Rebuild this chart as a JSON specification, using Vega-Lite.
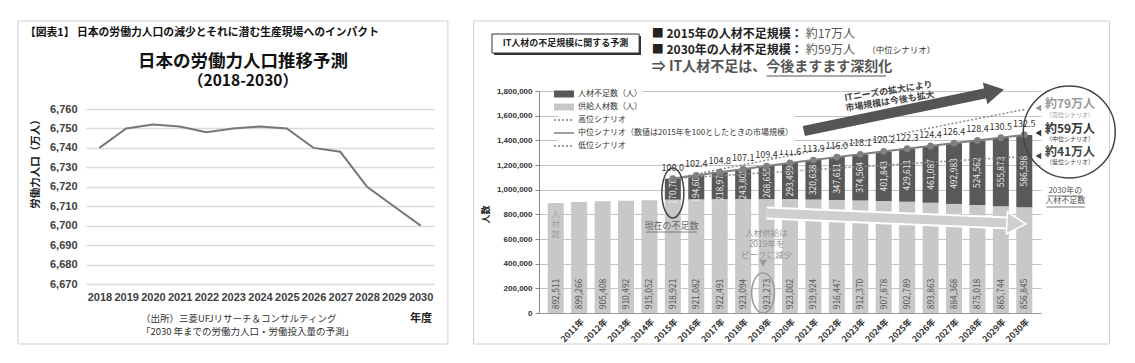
{
  "$schema": "https://vega.github.io/schema/vega-lite/v6.json",
  "background": "white",
  "padding": {"left": 17, "top": 20, "right": 5, "bottom": 5},
  "bounds": "flush",
  "spacing": 105,
  "config": {"font": "Noto Sans CJK JP", "view": {"stroke": null}},
  "resolve": {
    "scale": {"color": "independent", "strokeDash": "independent"},
    "legend": {"color": "independent", "strokeDash": "independent"}
  },
  "datasets": {
    "labour": [
      {"year": 2018, "pop": 6740}, {"year": 2019, "pop": 6750}, {"year": 2020, "pop": 6752},
      {"year": 2021, "pop": 6751}, {"year": 2022, "pop": 6748}, {"year": 2023, "pop": 6750},
      {"year": 2024, "pop": 6751}, {"year": 2025, "pop": 6750}, {"year": 2026, "pop": 6740},
      {"year": 2027, "pop": 6738}, {"year": 2028, "pop": 6720}, {"year": 2029, "pop": 6710},
      {"year": 2030, "pop": 6700}
    ],
    "it": [
      {"year": 2010, "supply": 892511, "shortage": null, "index": null},
      {"year": 2011, "supply": 899266, "shortage": null, "index": null},
      {"year": 2012, "supply": 905408, "shortage": null, "index": null},
      {"year": 2013, "supply": 910492, "shortage": null, "index": null},
      {"year": 2014, "supply": 915052, "shortage": null, "index": null},
      {"year": 2015, "supply": 918921, "shortage": 170700, "index": 100.0},
      {"year": 2016, "supply": 921082, "shortage": 194608, "index": 102.4},
      {"year": 2017, "supply": 922491, "shortage": 218976, "index": 104.8},
      {"year": 2018, "supply": 923094, "shortage": 243805, "index": 107.1},
      {"year": 2019, "supply": 923273, "shortage": 268655, "index": 109.4},
      {"year": 2020, "supply": 923002, "shortage": 293499, "index": 111.6},
      {"year": 2021, "supply": 919924, "shortage": 320638, "index": 113.9},
      {"year": 2022, "supply": 916447, "shortage": 347611, "index": 116.0},
      {"year": 2023, "supply": 912370, "shortage": 374564, "index": 118.1},
      {"year": 2024, "supply": 907878, "shortage": 401843, "index": 120.2},
      {"year": 2025, "supply": 902789, "shortage": 429611, "index": 122.3},
      {"year": 2026, "supply": 893863, "shortage": 461087, "index": 124.4},
      {"year": 2027, "supply": 884368, "shortage": 492983, "index": 126.4},
      {"year": 2028, "supply": 875018, "shortage": 524562, "index": 128.4},
      {"year": 2029, "supply": 865744, "shortage": 555873, "index": 130.5},
      {"year": 2030, "supply": 856845, "shortage": 586598, "index": 132.5}
    ],
    "scen": [
      {"scen": "高位シナリオ", "year": 2015, "value": 1089621},
      {"scen": "高位シナリオ", "year": 2030, "value": 1650000},
      {"scen": "低位シナリオ", "year": 2015, "value": 1089621},
      {"scen": "低位シナリオ", "year": 2030, "value": 1270000}
    ]
  },
  "hconcat": [
    {
      "width": 348,
      "height": 193,
      "resolve": {"axis": {"x": "independent", "y": "independent"}},
      "layer": [
        {
          "data": {"values": [{}]},
          "mark": {"type": "rect", "filled": false, "color": "#d0d0d0", "strokeWidth": 1},
          "encoding": {"x": {"datum": 2014.96, "axis": null}, "x2": {"datum": 2031.02}, "y": {"datum": 6805.26, "axis": null}, "y2": {"datum": 6639.14}}
        },
        {
          "data": {"name": "labour"},
          "mark": {"type": "line", "color": "#777777", "strokeWidth": 2},
          "encoding": {
            "x": {
              "field": "year", "type": "quantitative",
              "scale": {"domain": [2017.5, 2030.5], "nice": false, "zero": false},
              "axis": {
                "values": [2018, 2019, 2020, 2021, 2022, 2023, 2024, 2025, 2026, 2027, 2028, 2029, 2030],
                "format": "d", "title": null, "grid": false, "domain": false, "ticks": false, "orient": "bottom",
                "labelFont": "Liberation Sans", "labelFontSize": 11, "labelFontWeight": "bold",
                "labelColor": "#404040", "labelPadding": 7, "labelFlush": false, "labelOverlap": false
              }
            },
            "y": {
              "field": "pop", "type": "quantitative",
              "scale": {"domain": [6670, 6769.26], "nice": false, "zero": false},
              "axis": {
                "values": [6670, 6680, 6690, 6700, 6710, 6720, 6730, 6740, 6750, 6760],
                "format": ",d", "title": "労働力人口（万人）", "orient": "left",
                "grid": true, "gridColor": "#dadada", "gridWidth": 1.5,
                "domain": false, "ticks": false, "labelOverlap": false,
                "labelFont": "Liberation Sans", "labelFontSize": 11, "labelFontWeight": "bold",
                "labelColor": "#404040", "labelPadding": 9,
                "titleFontSize": 10.5, "titleFontWeight": "bold", "titleColor": "#222",
                "titleX": -51, "titleY": 70, "titleAngle": 270, "titleAlign": "center", "titleBaseline": "middle"
              }
            }
          }
        },
        {
          "data": {"values": [{}]},
          "mark": {"type": "text", "text": "【図表1】 日本の労働力人口の減少とそれに潜む生産現場へのインパクト", "align": "left", "baseline": "middle", "fontSize": 10.8, "fontWeight": "bold", "color": "#111"},
          "encoding": {"x": {"datum": 2015.22, "axis": null}, "y": {"datum": 6799.09, "axis": null}}
        },
        {
          "data": {"values": [{}]},
          "mark": {"type": "text", "text": "日本の労働力人口推移予測", "align": "center", "baseline": "middle", "fontSize": 17.5, "fontWeight": "bold", "color": "#111"},
          "encoding": {"x": {"datum": 2023.365, "axis": null}, "y": {"datum": 6784.17, "axis": null}}
        },
        {
          "data": {"values": [{}]},
          "mark": {"type": "text", "text": "（2018-2030）", "align": "center", "baseline": "middle", "fontSize": 15.5, "fontWeight": "bold", "color": "#111"},
          "encoding": {"x": {"datum": 2023.365, "axis": null}, "y": {"datum": 6774.4, "axis": null}}
        },
        {
          "data": {"values": [{}]},
          "mark": {"type": "text", "text": ["（出所）三菱UFJリサーチ＆コンサルティング", "「2030 年までの労働力人口・労働投入量の予測」"], "align": "left", "baseline": "middle", "fontSize": 9.5, "lineHeight": 13, "color": "#333"},
          "encoding": {"x": {"datum": 2019.55, "axis": null}, "y": {"datum": 6652.0, "axis": null}}
        },
        {
          "data": {"values": [{}]},
          "mark": {"type": "text", "text": "年度", "align": "center", "baseline": "middle", "fontSize": 11, "fontWeight": "bold", "color": "#222"},
          "encoding": {"x": {"datum": 2030.01, "axis": null}, "y": {"datum": 6652.0, "axis": null}}
        }
      ]
    },
    {
      "width": 502,
      "height": 222,
      "resolve": {"axis": {"x": "independent", "y": "independent"}},
      "layer": [
        {
          "data": {"values": [{}]},
          "mark": {"type": "rect", "filled": false, "color": "#d0d0d0", "strokeWidth": 1},
          "encoding": {"x": {"datum": 2006.49, "axis": null}, "x2": {"datum": 2033.64}, "y": {"datum": 2367600, "axis": null}, "y2": {"datum": -251400}}
        },
        {
          "data": {"name": "it"},
          "transform": [
            {"fold": ["supply", "shortage"], "as": ["kind", "value"]},
            {"filter": "datum.value != null"}
          ],
          "mark": {"type": "bar", "width": 16},
          "encoding": {
            "x": {
              "field": "year", "type": "quantitative",
              "scale": {"domain": [2009.5, 2030.5], "nice": false, "zero": false},
              "axis": {
                "values": [2010, 2011, 2012, 2013, 2014, 2015, 2016, 2017, 2018, 2019, 2020, 2021, 2022, 2023, 2024, 2025, 2026, 2027, 2028, 2029, 2030],
                "labelExpr": "datum.value == 2010 ? '' : datum.value + '年'", "orient": "bottom",
                "labelAngle": -45, "title": null, "grid": false, "ticks": false,
                "domain": true, "domainColor": "#999",
                "labelFontSize": 8.5, "labelFontWeight": "bold", "labelColor": "#333",
                "labelPadding": 4, "labelFlush": false, "labelOverlap": false
              }
            },
            "y": {
              "field": "value", "type": "quantitative", "stack": "zero",
              "scale": {"domain": [0, 1800000], "nice": false},
              "axis": {
                "values": [0, 200000, 400000, 600000, 800000, 1000000, 1200000, 1400000, 1600000, 1800000],
                "format": ",d", "title": "人数", "labelOverlap": false, "orient": "left",
                "titleX": -54, "titleY": 123, "titleAngle": 270, "titleAlign": "center", "titleBaseline": "middle",
                "titleFontSize": 9, "titleFontWeight": "bold", "titleColor": "#222",
                "grid": true, "gridColor": "#c4c4c4",
                "domainColor": "#888", "tickColor": "#888", "tickSize": 4,
                "labelFont": "Liberation Sans", "labelFontSize": 8, "labelFontWeight": "bold",
                "labelColor": "#333", "labelPadding": 3
              }
            },
            "color": {
              "field": "kind", "type": "nominal",
              "scale": {"domain": ["shortage", "supply"], "range": ["#595959", "#c8c8c8"]},
              "legend": {
                "orient": "none", "legendX": 19, "legendY": -3, "title": null, "padding": 0, "fillColor": "white",
                "labelExpr": "datum.value == 'shortage' ? '人材不足数（人）' : '供給人材数（人）'",
                "symbolType": "M-2,-0.7H2V0.7H-2Z", "symbolSize": 100, "labelOffset": 8,
                "labelFontSize": 8, "labelColor": "#333", "rowPadding": 3, "labelLimit": 400
              }
            },
            "order": {"field": "kind", "sort": "descending"}
          }
        },
        {
          "data": {"name": "it"},
          "mark": {"type": "text", "angle": 270, "fontSize": 8.5, "color": "#555", "align": "center", "baseline": "middle"},
          "encoding": {
            "x": {"field": "year", "type": "quantitative", "axis": null},
            "y": {"datum": 154000, "axis": null},
            "text": {"field": "supply", "type": "quantitative", "format": ","}
          }
        },
        {
          "data": {"name": "it"},
          "transform": [
            {"filter": "datum.shortage != null"},
            {"calculate": "datum.supply + datum.shortage / 2", "as": "mid"}
          ],
          "mark": {"type": "text", "angle": 270, "fontSize": 8.5, "color": "#ececec", "align": "center", "baseline": "middle"},
          "encoding": {
            "x": {"field": "year", "type": "quantitative", "axis": null},
            "y": {"field": "mid", "type": "quantitative", "axis": null},
            "text": {"field": "shortage", "type": "quantitative", "format": ","}
          }
        },
        {
          "data": {"values": [{}]},
          "mark": {"type": "rule", "color": "white", "strokeWidth": 13},
          "encoding": {"x": {"datum": 2019.0, "axis": null}, "y": {"datum": 810800, "axis": null}, "x2": {"datum": 2029.33}, "y2": {"datum": 729700}}
        },
        {
          "data": {"values": [{}]},
          "mark": {"type": "rule", "color": "#cfcfcf", "strokeWidth": 9},
          "encoding": {"x": {"datum": 2019.0, "axis": null}, "y": {"datum": 810800, "axis": null}, "x2": {"datum": 2029.33}, "y2": {"datum": 729700}}
        },
        {
          "data": {"values": [{}]},
          "mark": {"type": "point", "shape": "triangle-right", "filled": true, "color": "#cfcfcf", "stroke": "white", "strokeWidth": 1.5, "size": 480, "angle": 2.5, "opacity": 1},
          "encoding": {"x": {"datum": 2029.66, "axis": null}, "y": {"datum": 726500, "axis": null}}
        },
        {
          "data": {"name": "scen"},
          "mark": {"type": "line", "color": "#888", "strokeWidth": 1.5},
          "encoding": {
            "x": {"field": "year", "type": "quantitative", "axis": null},
            "y": {"field": "value", "type": "quantitative", "axis": null},
            "strokeDash": {
              "field": "scen", "type": "nominal",
              "scale": {"domain": ["高位シナリオ", "中位シナリオ（数値は2015年を100としたときの市場規模）", "低位シナリオ"], "range": [[2, 2], [1, 0], [2, 2]]},
              "legend": {
                "orient": "none", "legendX": 19, "legendY": 23, "title": null, "padding": 0, "fillColor": "white",
                "symbolType": "M-2,0H2", "symbolSize": 100, "labelOffset": 8,
                "symbolStrokeColor": "#808080", "symbolStrokeWidth": 1.5,
                "labelFontSize": 8, "labelColor": "#333", "rowPadding": 3, "labelLimit": 400
              }
            }
          }
        },
        {
          "data": {"name": "it"},
          "transform": [
            {"filter": "datum.index != null"},
            {"calculate": "datum.supply + datum.shortage", "as": "total"}
          ],
          "mark": {"type": "line", "color": "#808080", "strokeWidth": 2, "point": {"filled": true, "size": 45, "color": "#808080"}},
          "encoding": {
            "x": {"field": "year", "type": "quantitative", "axis": null},
            "y": {"field": "total", "type": "quantitative", "axis": null},
            "strokeDash": {"datum": "中位シナリオ（数値は2015年を100としたときの市場規模）"}
          }
        },
        {
          "data": {"name": "it"},
          "transform": [
            {"filter": "datum.index != null"},
            {"calculate": "datum.supply + datum.shortage", "as": "total"}
          ],
          "mark": {"type": "text", "dy": -11, "fontSize": 9, "color": "#333", "baseline": "middle"},
          "encoding": {
            "x": {"field": "year", "type": "quantitative", "axis": null},
            "y": {"field": "total", "type": "quantitative", "axis": null},
            "text": {"field": "index", "type": "quantitative", "format": ".1f"}
          }
        },
        {
          "data": {"values": [{}]},
          "mark": {"type": "rule", "color": "#555", "strokeWidth": 10},
          "encoding": {"x": {"datum": 2020.59, "axis": null}, "y": {"datum": 1475700, "axis": null}, "x2": {"datum": 2028.41}, "y2": {"datum": 1783800}}
        },
        {
          "data": {"values": [{}]},
          "mark": {"type": "point", "shape": "triangle-right", "filled": true, "color": "#555", "size": 500, "angle": -11.5, "opacity": 1},
          "encoding": {"x": {"datum": 2028.73, "axis": null}, "y": {"datum": 1796700, "axis": null}}
        },
        {
          "data": {"values": [{}]},
          "mark": {"type": "text", "text": ["ITニーズの拡大により", "市場規模は今後も拡大"], "angle": -9, "fontSize": 9, "fontWeight": "bold", "color": "#444", "lineHeight": 10.5, "align": "center", "baseline": "middle"},
          "encoding": {"x": {"datum": 2024.2, "axis": null}, "y": {"datum": 1800000, "axis": null}}
        },
        {
          "data": {"values": [{}]},
          "mark": {"type": "text", "text": ["人", "材", "数"], "fontSize": 8.5, "color": "#a4a4a4", "lineHeight": 10, "align": "center", "baseline": "middle"},
          "encoding": {"x": {"datum": 2010, "axis": null}, "y": {"datum": 802700, "axis": null}}
        },
        {
          "data": {"values": [{}]},
          "mark": {"type": "text", "text": "現在の不足数", "fontSize": 9, "color": "#666", "align": "center", "baseline": "middle"},
          "encoding": {"x": {"datum": 2014.94, "axis": null}, "y": {"datum": 705400, "axis": null}}
        },
        {
          "data": {"values": [{}]},
          "mark": {"type": "rule", "color": "#666", "strokeWidth": 0.8},
          "encoding": {"x": {"datum": 2013.85, "axis": null}, "x2": {"datum": 2016.03}, "y": {"datum": 656700, "axis": null}, "y2": {"datum": 656700}}
        },
        {
          "data": {"values": [{}]},
          "mark": {"type": "text", "text": ["人材供給は", "2019年を", "ピークに減少"], "fontSize": 8.5, "color": "#959595", "lineHeight": 11, "align": "center", "baseline": "middle"},
          "encoding": {"x": {"datum": 2019, "axis": null}, "y": {"datum": 652700, "axis": null}}
        },
        {
          "data": {"values": [{}]},
          "mark": {"type": "point", "shape": "triangle-down", "filled": true, "color": "#9a9a9a", "size": 70, "opacity": 1},
          "encoding": {"x": {"datum": 2018.85, "axis": null}, "y": {"datum": 405400, "axis": null}}
        },
        {
          "data": {"values": [{}]},
          "mark": {"type": "point", "shape": "M0,-1A0.44,1,0,1,1,0,1A0.44,1,0,1,1,0,-1Z", "filled": false, "color": "#444", "strokeWidth": 1.5, "size": 2500, "opacity": 1},
          "encoding": {"x": {"datum": 2015, "axis": null}, "y": {"datum": 973000, "axis": null}}
        },
        {
          "data": {"values": [{}]},
          "mark": {"type": "point", "shape": "M0,-1A0.57,1,0,1,1,0,1A0.57,1,0,1,1,0,-1Z", "filled": false, "color": "#999", "strokeWidth": 1.5, "size": 1600, "opacity": 1},
          "encoding": {"x": {"datum": 2018.85, "axis": null}, "y": {"datum": 162200, "axis": null}}
        },
        {
          "data": {"values": [{}]},
          "mark": {"type": "point", "shape": "M0,-1A1,1,0,1,1,0,1A1,1,0,1,1,0,-1Z", "filled": false, "color": "#444", "strokeWidth": 1.5, "size": 8464, "opacity": 1},
          "encoding": {"x": {"datum": 2031.92, "axis": null}, "y": {"datum": 1467500, "axis": null}}
        },
        {
          "data": {"values": [{}]},
          "mark": {"type": "point", "shape": "triangle-left", "filled": true, "color": "#999", "size": 45, "opacity": 1},
          "encoding": {"x": {"datum": 2030.6, "axis": null}, "y": {"datum": 1662100, "axis": null}}
        },
        {
          "data": {"values": [{}]},
          "mark": {"type": "point", "shape": "triangle-left", "filled": true, "color": "#333", "size": 45, "opacity": 1},
          "encoding": {"x": {"datum": 2030.6, "axis": null}, "y": {"datum": 1459400, "axis": null}}
        },
        {
          "data": {"values": [{}]},
          "mark": {"type": "point", "shape": "triangle-left", "filled": true, "color": "#444", "size": 45, "opacity": 1},
          "encoding": {"x": {"datum": 2030.6, "axis": null}, "y": {"datum": 1273000, "axis": null}}
        },
        {
          "data": {"values": [{}]},
          "mark": {"type": "text", "text": "約79万人", "fontSize": 12, "fontWeight": "bold", "color": "#9a9a9a", "align": "center", "baseline": "middle"},
          "encoding": {"x": {"datum": 2031.95, "axis": null}, "y": {"datum": 1694600, "axis": null}}
        },
        {
          "data": {"values": [{}]},
          "mark": {"type": "text", "text": "（高位シナリオ）", "fontSize": 6, "color": "#9a9a9a", "align": "center", "baseline": "middle"},
          "encoding": {"x": {"datum": 2031.95, "axis": null}, "y": {"datum": 1605400, "axis": null}}
        },
        {
          "data": {"values": [{}]},
          "mark": {"type": "text", "text": "約59万人", "fontSize": 12, "fontWeight": "bold", "color": "#333", "align": "center", "baseline": "middle"},
          "encoding": {"x": {"datum": 2031.95, "axis": null}, "y": {"datum": 1491900, "axis": null}}
        },
        {
          "data": {"values": [{}]},
          "mark": {"type": "text", "text": "（中位シナリオ）", "fontSize": 6, "color": "#333", "align": "center", "baseline": "middle"},
          "encoding": {"x": {"datum": 2031.95, "axis": null}, "y": {"datum": 1410800, "axis": null}}
        },
        {
          "data": {"values": [{}]},
          "mark": {"type": "text", "text": "約41万人", "fontSize": 12, "fontWeight": "bold", "color": "#444", "align": "center", "baseline": "middle"},
          "encoding": {"x": {"datum": 2031.95, "axis": null}, "y": {"datum": 1305400, "axis": null}}
        },
        {
          "data": {"values": [{}]},
          "mark": {"type": "text", "text": "（低位シナリオ）", "fontSize": 6, "color": "#444", "align": "center", "baseline": "middle"},
          "encoding": {"x": {"datum": 2031.95, "axis": null}, "y": {"datum": 1224300, "axis": null}}
        },
        {
          "data": {"values": [{}]},
          "mark": {"type": "text", "text": ["2030年の", "人材不足数"], "fontSize": 8, "color": "#555", "lineHeight": 10.5, "align": "center", "baseline": "middle"},
          "encoding": {"x": {"datum": 2031.75, "axis": null}, "y": {"datum": 989200, "axis": null}}
        },
        {
          "data": {"values": [{}]},
          "mark": {"type": "rule", "color": "#555", "strokeWidth": 0.8},
          "encoding": {"x": {"datum": 2031.0, "axis": null}, "x2": {"datum": 2032.5}, "y": {"datum": 948600, "axis": null}, "y2": {"datum": 948600}}
        },
        {
          "data": {"values": [{}]},
          "mark": {"type": "rule", "color": "#555", "strokeWidth": 0.8},
          "encoding": {"x": {"datum": 2030.95, "axis": null}, "x2": {"datum": 2032.59}, "y": {"datum": 859500, "axis": null}, "y2": {"datum": 859500}}
        },
        {
          "data": {"values": [{}]},
          "mark": {"type": "rect", "color": "#333"},
          "encoding": {"x": {"datum": 2007.37, "axis": null}, "x2": {"datum": 2013.64}, "y": {"datum": 2245900, "axis": null}, "y2": {"datum": 2091900}}
        },
        {
          "data": {"values": [{}]},
          "mark": {"type": "rect", "fill": "white", "stroke": "#333", "strokeWidth": 1},
          "encoding": {"x": {"datum": 2007.28, "axis": null}, "x2": {"datum": 2013.56}, "y": {"datum": 2262100, "axis": null}, "y2": {"datum": 2108100}}
        },
        {
          "data": {"values": [{}]},
          "mark": {"type": "text", "text": "IT人材の不足規模に関する予測", "fontSize": 9, "fontWeight": "bold", "color": "#222", "align": "center", "baseline": "middle"},
          "encoding": {"x": {"datum": 2010.42, "axis": null}, "y": {"datum": 2189200, "axis": null}}
        },
        {
          "data": {"values": [{}]},
          "mark": {"type": "text", "text": "■ 2015年の人材不足規模：", "fontSize": 12, "fontWeight": "bold", "color": "#222", "align": "left", "baseline": "middle"},
          "encoding": {"x": {"datum": 2014.1, "axis": null}, "y": {"datum": 2262200, "axis": null}}
        },
        {
          "data": {"values": [{}]},
          "mark": {"type": "text", "text": "約17万人", "fontSize": 12, "color": "#555", "align": "left", "baseline": "middle"},
          "encoding": {"x": {"datum": 2020.67, "axis": null}, "y": {"datum": 2262200, "axis": null}}
        },
        {
          "data": {"values": [{}]},
          "mark": {"type": "text", "text": "■ 2030年の人材不足規模：", "fontSize": 12, "fontWeight": "bold", "color": "#222", "align": "left", "baseline": "middle"},
          "encoding": {"x": {"datum": 2014.1, "axis": null}, "y": {"datum": 2136400, "axis": null}}
        },
        {
          "data": {"values": [{}]},
          "mark": {"type": "text", "text": "約59万人", "fontSize": 12, "color": "#555", "align": "left", "baseline": "middle"},
          "encoding": {"x": {"datum": 2020.67, "axis": null}, "y": {"datum": 2136400, "axis": null}}
        },
        {
          "data": {"values": [{}]},
          "mark": {"type": "text", "text": "（中位シナリオ）", "fontSize": 8.5, "color": "#333", "align": "left", "baseline": "middle"},
          "encoding": {"x": {"datum": 2023.3, "axis": null}, "y": {"datum": 2132000, "axis": null}}
        },
        {
          "data": {"values": [{}]},
          "mark": {"type": "text", "text": "⇒ IT人材不足は、今後ますます深刻化", "fontSize": 14, "fontWeight": "bold", "color": "#555", "align": "left", "baseline": "middle"},
          "encoding": {"x": {"datum": 2014.1, "axis": null}, "y": {"datum": 1990600, "axis": null}}
        },
        {
          "data": {"values": [{}]},
          "mark": {"type": "rule", "color": "#555", "strokeWidth": 1.2},
          "encoding": {"x": {"datum": 2019.0, "axis": null}, "x2": {"datum": 2024.1}, "y": {"datum": 1921600, "axis": null}, "y2": {"datum": 1921600}}
        }
      ]
    }
  ]
}
